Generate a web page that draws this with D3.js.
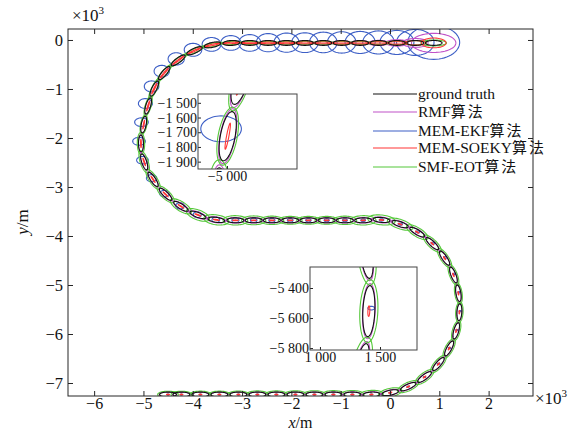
<!DOCTYPE html>
<html><head><meta charset="utf-8">
<script src="https://cdn.jsdelivr.net/npm/d3@7"></script>
<style>
html,body{margin:0;padding:0;background:#fff;}
svg{display:block;font-family:"Liberation Serif","Times New Roman",serif;}
</style></head><body>
<svg id="chart" width="574" height="438"></svg>
<script>
// Target centre at each scan (m)
const truthX = [886, 513, 140, -233, -606, -980, -1353, -1726, -2099, -2472, -2845, -3218,
  -3600, -3965, -4295, -4579, -4780, -4905, -4995, -5050, -4985, -4805, -4550, -4240, -3895, -3522,
  -3135, -2764, -2395, -2024, -1655, -1284, -915, -544,
  -172, 205, 552, 858, 1107, 1286, 1387, 1407, 1343, 1199, 982, 700, 369, 4,
  -377, -763, -1148, -1533, -1918, -2304, -2689, -3074, -3460, -3845, -4230, -4502];
const truthY = [-60, -60, -60, -60, -60, -60, -60, -60, -60, -60, -60, -61,
  -100, -220, -416, -676, -992, -1347, -1727, -2112, -2488, -2845, -3150, -3395, -3570, -3670,
  -3680, -3680, -3680, -3680, -3680, -3680, -3680, -3680,
  -3672, -3758, -3921, -4156, -4452, -4794, -5168, -5554, -5935, -6295, -6613, -6878, -7074, -7197,
  -7235, -7235, -7235, -7235, -7235, -7235, -7235, -7235, -7235, -7235, -7235, -7235];
// True extent: half length / half width (m)
const truthHalfLength = 170, truthHalfWidth = 50;

// RMF: half axes along / across heading (m)
const rmfA = [450, 260, 225, 205, 195, 190, 190, 185, 185, 185, 185, 185,
  185, 186, 188, 190, 192, 192, 190, 190, 190, 188, 188, 190, 192, 192,
  190, 188, 186, 186, 185, 185, 186, 190,
  195, 192, 190, 188, 186, 185, 185, 184, 185, 186, 188, 190, 190, 190,
  188, 186, 185, 184, 184, 183, 183, 182, 182, 181, 181, 180];
const rmfB = [195, 90, 65, 52, 45, 42, 40, 40, 40, 40, 40, 40,
  42, 44, 46, 48, 50, 50, 52, 52, 54, 54, 55, 56, 58, 58,
  56, 55, 54, 54, 53, 53, 54, 56,
  58, 57, 56, 55, 54, 53, 52, 52, 53, 54, 55, 56, 56, 56,
  55, 54, 54, 53, 53, 52, 52, 52, 51, 51, 50, 50];
// MEM-EKF: half axes along x / along y (m), and centre offsets (m)
const ekfA = [527, 380, 345, 320, 305, 290, 280, 268, 255, 240, 225, 205,
  190, 178, 165, 155, 148, 142, 138, 128, 118, 105, 95, 88, 82, 78,
  72, 66, 62, 58, 55, 52, 50, 48,
  46, 44, 42, 40, 37, 34, 31, 28, 27, 26, 26, 25, 25, 24,
  24, 24, 23, 23, 23, 22, 22, 22, 21, 21, 21, 20];
const ekfB = [345, 265, 245, 235, 225, 218, 210, 202, 195, 185, 170, 150,
  140, 132, 125, 118, 112, 100, 88, 80, 76, 72, 68, 64, 60, 56,
  50, 45, 40, 36, 33, 30, 28, 26,
  24, 22, 20, 18, 16, 14, 13, 12, 12, 11, 11, 11, 10, 10,
  10, 10, 10, 10, 9, 9, 9, 9, 9, 9, 9, 9];
const ekfDX = [0, 0, 0, 0, 0, 0, 0, 0, 0, 0, 0, -10,
  -20, -30, -40, -50, -55, -55, -45, -40, -35, -30, -25, -20, -15, -10,
  0, 0, 0, 0, 0, 0, 0, 0,
  0, 5, 10, 15, 20, 20, 20, 20, 15, 10, 5, 0, 0, 0,
  0, 0, 0, 0, 0, 0, 0, 0, 0, 0, 0, 0];
const ekfDY = [10, 10, 10, 10, 10, 10, 10, 5, 5, 5, 0, 0,
  10, 20, 30, 40, 45, 50, 50, 45, 35, 25, 15, 10, 5, 0,
  0, 0, 0, 0, 0, 0, 0, 0,
  0, 0, 5, 10, 15, 20, 20, 20, 15, 10, 5, 0, 0, 0,
  0, 0, 0, 0, 0, 0, 0, 0, 0, 0, 0, 0];
// MEM-SOEKY: half axes along / across heading (m)
const soekyA = [250, 215, 205, 200, 195, 195, 190, 190, 185, 185, 180, 175,
  165, 150, 140, 130, 120, 105, 90, 85, 80, 76, 72, 68, 64, 60,
  56, 52, 50, 48, 46, 45, 44, 43,
  42, 41, 40, 39, 38, 37, 36, 35, 35, 34, 34, 33, 33, 33,
  32, 32, 32, 31, 31, 31, 30, 30, 30, 30, 30, 30];
const soekyB = [100, 45, 25, 22, 20, 20, 18, 18, 16, 16, 15, 15,
  14, 13, 12, 12, 11, 10, 8, 8, 8, 8, 8, 8, 8, 8,
  8, 8, 8, 8, 8, 8, 8, 8,
  8, 8, 8, 8, 8, 8, 8, 8, 8, 8, 8, 8, 8, 8,
  8, 8, 8, 8, 8, 8, 8, 8, 8, 8, 8, 8];
// SMF-EOT: half axes along / across heading (m)
const smfA = [260, 230, 220, 215, 210, 210, 210, 205, 205, 205, 200, 200,
  210, 215, 215, 220, 225, 215, 200, 225, 240, 235, 230, 245, 250, 255,
  250, 245, 240, 240, 235, 235, 240, 260,
  280, 270, 250, 240, 230, 225, 215, 210, 215, 220, 225, 230, 235, 240,
  240, 235, 230, 225, 225, 220, 220, 220, 215, 215, 210, 210];
const smfB = [60, 45, 35, 30, 30, 30, 28, 28, 28, 28, 30, 32,
  35, 40, 45, 50, 55, 60, 65, 75, 80, 80, 85, 95, 100, 100,
  95, 90, 85, 80, 80, 80, 85, 95,
  100, 95, 90, 85, 80, 78, 75, 75, 78, 80, 82, 85, 85, 88,
  85, 82, 80, 78, 76, 75, 75, 72, 70, 70, 68, 68];

// Axis ticks (×10³ m) and inset ticks (m)
const xTicks = [-6, -5, -4, -3, -2, -1, 0, 1, 2];
const yTicks = [0, -1, -2, -3, -4, -5, -6, -7];
const inset1XTicks = [-5000];
const inset1YTicks = [-1500, -1600, -1700, -1800, -1900];
const inset2XTicks = [1000, 1500];
const inset2YTicks = [-5400, -5600, -5800];
const legendLabels = ["ground truth", "RMF", "MEM-EKF", "MEM-SOEKY", "SMF-EOT"];
const legendSuffix = ["", "算法", "算法", "算法", "算法"];

const colors = {truth: "#111111", rmf: "#c052c8", ekf: "#3d5fc6", soeky: "#ff3535", smf: "#55c83a"};
const serif = "'Liberation Serif','Times New Roman',serif";

const svg = d3.select("#chart");
const plot = {left: 68, right: 533, top: 29, bottom: 396};
const x = d3.scaleLinear().domain([-6530, 2900]).range([plot.left, plot.right]);
const y = d3.scaleLinear().domain([224, -7265]).range([plot.top, plot.bottom]);

const n = truthX.length;
const heading = truthX.map((_, i) => {
  const a = Math.max(0, i - 1), b = Math.min(n - 1, i + 1);
  return Math.atan2(truthY[b] - truthY[a], truthX[b] - truthX[a]);
});
const zeros = truthX.map(() => 0);

function ellipsePath(cx, cy, a, b, ang, sx, sy) {
  const pts = [];
  for (let k = 0; k <= 60; k++) {
    const t = k / 60 * 2 * Math.PI;
    const u = a * Math.cos(t), v = b * Math.sin(t);
    pts.push([sx(cx + u * Math.cos(ang) - v * Math.sin(ang)),
              sy(cy + u * Math.sin(ang) + v * Math.cos(ang))]);
  }
  return d3.line()(pts) + "Z";
}

const layers = [
  {key: "ekf", A: ekfA, B: ekfB, dx: ekfDX, dy: ekfDY, oriented: false},
  {key: "rmf", A: rmfA, B: rmfB, dx: zeros, dy: zeros, oriented: true},
  {key: "smf", A: smfA, B: smfB, dx: zeros, dy: zeros, oriented: true},
  {key: "soeky", A: soekyA, B: soekyB, dx: zeros, dy: zeros, oriented: true},
  {key: "truth", A: truthX.map(() => truthHalfLength), B: truthX.map(() => truthHalfWidth), dx: zeros, dy: zeros, oriented: true}
];

function drawEllipses(g, sx, sy) {
  layers.forEach(L => {
    g.append("g").selectAll("path").data(d3.range(n)).join("path")
      .attr("d", i => ellipsePath(truthX[i] + L.dx[i], truthY[i] + L.dy[i], L.A[i], L.B[i], L.oriented ? heading[i] : 0, sx, sy))
      .attr("fill", "none").attr("stroke", colors[L.key]).attr("stroke-width", 1.1);
  });
}

const defs = svg.append("defs");
defs.append("clipPath").attr("id", "clipMain").append("rect")
  .attr("x", plot.left).attr("y", plot.top).attr("width", plot.right - plot.left).attr("height", plot.bottom - plot.top);

drawEllipses(svg.append("g").attr("clip-path", "url(#clipMain)"), x, y);

// Axes
const fmtK = v => d3.format("d")(v);
const axisColor = "#262626";
function styleAxis(g, size) {
  g.attr("font-family", serif).attr("font-size", size);
  g.select("path.domain").remove();
  g.selectAll(".tick line").attr("stroke", axisColor);
  g.selectAll("text").attr("fill", "#111");
}
svg.append("g").attr("transform", `translate(0,${plot.bottom})`)
  .call(d3.axisBottom(x).tickValues(xTicks.map(v => v * 1000)).tickFormat(v => fmtK(v / 1000)).tickSizeInner(-5).tickSizeOuter(0).tickPadding(1.5))
  .call(styleAxis, 16);
svg.append("g").attr("transform", `translate(0,${plot.top})`)
  .call(d3.axisTop(x).tickValues(xTicks.map(v => v * 1000)).tickFormat("").tickSizeInner(-5).tickSizeOuter(0))
  .call(styleAxis, 16);
svg.append("g").attr("transform", `translate(${plot.left},0)`)
  .call(d3.axisLeft(y).tickValues(yTicks.map(v => v * 1000)).tickFormat(v => fmtK(v / 1000)).tickSizeInner(-5).tickSizeOuter(0).tickPadding(5))
  .call(styleAxis, 16.5);
svg.append("g").attr("transform", `translate(${plot.right},0)`)
  .call(d3.axisRight(y).tickValues(yTicks.map(v => v * 1000)).tickFormat("").tickSizeInner(-5).tickSizeOuter(0))
  .call(styleAxis, 16);
svg.append("rect").attr("x", plot.left).attr("y", plot.top)
  .attr("width", plot.right - plot.left).attr("height", plot.bottom - plot.top)
  .attr("fill", "none").attr("stroke", axisColor).attr("stroke-width", 1);

// Exponent labels
function expLabel(px, py) {
  const t = svg.append("text").attr("x", px).attr("y", py).attr("font-size", 17).attr("fill", "#111");
  t.append("tspan").text("×10");
  t.append("tspan").attr("font-size", 11).attr("dy", -7).text("3");
}
expLabel(72, 21);
expLabel(535, 404);

// Axis titles
const xt = svg.append("text").attr("x", (plot.left + plot.right) / 2).attr("y", 428)
  .attr("text-anchor", "middle").attr("font-size", 16).attr("fill", "#111");
xt.append("tspan").attr("font-style", "italic").text("x");
xt.append("tspan").text("/m");
const yt = svg.append("text").attr("transform", `translate(28,222) rotate(-90)`)
  .attr("text-anchor", "middle").attr("font-size", 17).attr("fill", "#111");
yt.append("tspan").attr("font-style", "italic").text("y");
yt.append("tspan").text("/m");

// Zoomed insets
const locale = d3.formatLocale({decimal: ".", thousands: " ", grouping: [3], currency: ["", ""], minus: "\u2212"});
const fmtInset = locale.format(",d");
function inset(id, box, xd, yd, xt, yt) {
  const sx = d3.scaleLinear().domain(xd).range([box.x0, box.x1]);
  const sy = d3.scaleLinear().domain(yd).range([box.y0, box.y1]);
  svg.append("rect").attr("x", box.x0).attr("y", box.y0).attr("width", box.x1 - box.x0).attr("height", box.y1 - box.y0)
    .attr("fill", "#fff");
  defs.append("clipPath").attr("id", id).append("rect")
    .attr("x", box.x0).attr("y", box.y0).attr("width", box.x1 - box.x0).attr("height", box.y1 - box.y0);
  drawEllipses(svg.append("g").attr("clip-path", `url(#${id})`), sx, sy);
  svg.append("g").attr("transform", `translate(0,${box.y1})`)
    .call(d3.axisBottom(sx).tickValues(xt).tickFormat(fmtInset).tickSizeInner(-3).tickSizeOuter(0).tickPadding(2))
    .call(styleAxis, 14);
  svg.append("g").attr("transform", `translate(${box.x0},0)`)
    .call(d3.axisLeft(sy).tickValues(yt).tickFormat(fmtInset).tickSizeInner(-3).tickSizeOuter(0).tickPadding(1))
    .call(styleAxis, 14);
  svg.append("rect").attr("x", box.x0).attr("y", box.y0).attr("width", box.x1 - box.x0).attr("height", box.y1 - box.y0)
    .attr("fill", "none").attr("stroke", "#444").attr("stroke-width", 1);
}
inset("clipInset1", {x0: 198, x1: 297, y0: 94, y1: 169}, [-5197, -4524], [-1440, -1950], inset1XTicks, inset1YTicks);
inset("clipInset2", {x0: 310, x1: 417, y0: 267, y1: 350}, [917, 1808], [-5260, -5813], inset2XTicks, inset2YTicks);

// Legend
const legendRows = [94, 112, 131, 148, 167];
const legendKeys = ["truth", "rmf", "ekf", "soeky", "smf"];
const lg = svg.append("g");
legendKeys.forEach((k, i) => {
  lg.append("line").attr("x1", 373).attr("x2", 417).attr("y1", legendRows[i]).attr("y2", legendRows[i])
    .attr("stroke", colors[k]).attr("stroke-width", 1.1);
  const t = lg.append("text").attr("x", 418).attr("y", legendRows[i] + 5).attr("font-size", 15.5).attr("fill", "#111");
  t.append("tspan").text(legendLabels[i]);
  if (legendSuffix[i]) t.append("tspan").attr("font-family", "'Noto Sans CJK SC',sans-serif").attr("font-size", 15).attr("letter-spacing", 2).text(legendSuffix[i]);
});
</script>
</body></html>
